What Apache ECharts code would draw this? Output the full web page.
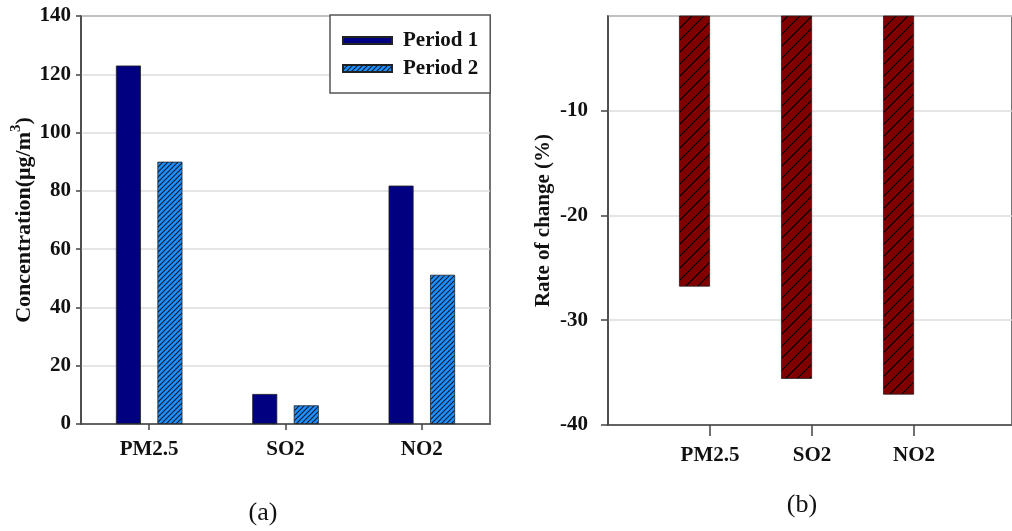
<!DOCTYPE html>
<html>
<head>
<meta charset="utf-8">
<script src="https://cdn.jsdelivr.net/npm/echarts@6/dist/echarts.min.js"></script>
<style>
html,body{margin:0;padding:0;background:#fff;}
#c{width:1012px;height:531px;}
</style>
</head>
<body>
<div id="c"></div>
<script>
// ---- data ----
const categories = ['PM2.5', 'SO2', 'NO2'];
const seriesNames = ['Period 1', 'Period 2'];
const period1 = [123, 10.3, 81.8];
const period2 = [90, 6.4, 51.2];
const rateOfChange = [-26.8, -35.6, -37.1];
const captions = ['(a)', '(b)'];

const FONT = '"Liberation Serif", "Times New Roman", serif';
const lab = { fontFamily: FONT, fontWeight: 'bold', fontSize: 21, color: '#111' };
const axisLineStyle = { color: '#444', width: 1.5 };

// diagonal "/" hatch tile
function hatch(bg, line, size, lw) {
  const c = document.createElement('canvas');
  c.width = size; c.height = size;
  const g = c.getContext('2d');
  g.fillStyle = bg; g.fillRect(0, 0, size, size);
  g.strokeStyle = line; g.lineWidth = lw;
  g.beginPath();
  g.moveTo(-2, size + 2); g.lineTo(size + 2, -2);
  g.moveTo(-2, 2); g.lineTo(2, -2);
  g.moveTo(size - 2, size + 2); g.lineTo(size + 2, size - 2);
  g.stroke();
  return { image: c, repeat: 'repeat' };
}

const chart = echarts.init(document.getElementById('c'), null, { renderer: 'canvas' });

// x positions for the right panel come from the category index on a value axis
const rightData = rateOfChange.map((v, i) => [i + 1, v]);

const option = {
  backgroundColor: '#fff',
  animation: false,
  legend: {
    data: seriesNames,
    left: 330, top: 15,
    orient: 'vertical',
    padding: [15, 12, 14, 12],
    itemGap: 7,
    itemWidth: 49, itemHeight: 7,
    icon: 'rect',
    borderColor: '#555', borderWidth: 1.5,
    backgroundColor: '#fff',
    textStyle: Object.assign({}, lab, { padding: [0, 0, 0, 6] })
  },
  grid: [
    { left: 81, top: 16, width: 409, height: 408, show: true, borderColor: '#444', borderWidth: 1.5 },
    { left: 608, top: 16, right: -3, height: 409, show: true, borderColor: '#444', borderWidth: 1.5 }
  ],
  xAxis: [
    {
      type: 'category', gridIndex: 0, data: categories,
      axisLine: { lineStyle: axisLineStyle },
      axisTick: { show: true, alignWithLabel: true, length: 6, lineStyle: axisLineStyle },
      axisLabel: Object.assign({}, lab, { margin: 15 })
    },
    {
      type: 'value', gridIndex: 1, min: 0, max: 3.96,
      axisLine: { show: true, lineStyle: axisLineStyle },
      axisTick: { show: true, length: 11, lineStyle: axisLineStyle, customValues: [1, 2, 3] },
      axisLabel: Object.assign({}, lab, {
        margin: 20, customValues: [1, 2, 3],
        formatter: v => categories[Math.round(v) - 1] || ''
      }),
      splitLine: { show: false }
    }
  ],
  yAxis: [
    {
      type: 'value', gridIndex: 0, min: 0, max: 140, interval: 20,
      name: '{a|Concentration(μg/m}{s|3}{a|)}',
      nameLocation: 'middle', nameGap: 45, nameRotate: 90,
      nameTextStyle: {
        rich: {
          a: { fontFamily: FONT, fontWeight: 'bold', fontSize: 22, color: '#111', lineHeight: 27, verticalAlign: 'bottom' },
          s: { fontFamily: FONT, fontWeight: 'bold', fontSize: 15, color: '#111', lineHeight: 27, verticalAlign: 'top' }
        }
      },
      axisLine: { show: true, lineStyle: axisLineStyle },
      axisTick: { show: true, length: 5, lineStyle: axisLineStyle },
      axisLabel: Object.assign({}, lab, { margin: 10 }),
      splitLine: { show: true, lineStyle: { color: '#dcdcdc', width: 1.5 } }
    },
    {
      type: 'value', gridIndex: 1, min: -40, max: -1, interval: 10,
      name: 'Rate of change (%)',
      nameLocation: 'middle', nameGap: 54, nameRotate: 90,
      nameTextStyle: { fontFamily: FONT, fontWeight: 'bold', fontSize: 21, color: '#111' },
      axisLine: { show: true, lineStyle: axisLineStyle },
      axisTick: { show: true, length: 7, lineStyle: axisLineStyle },
      axisLabel: Object.assign({}, lab, { margin: 20, showMaxLabel: false }),
      splitLine: { show: true, lineStyle: { color: '#dcdcdc', width: 1.5 } }
    }
  ],
  series: [
    {
      name: seriesNames[0], type: 'bar', xAxisIndex: 0, yAxisIndex: 0,
      data: period1, barWidth: 25, barGap: '66%',
      itemStyle: { color: '#000080', borderColor: '#222', borderWidth: 0.8 }
    },
    {
      name: seriesNames[1], type: 'bar', xAxisIndex: 0, yAxisIndex: 0,
      data: period2, barWidth: 25,
      itemStyle: { color: hatch('#1e90ff', '#0a1a30', 5, 1.1), borderColor: '#222', borderWidth: 0.8 }
    },
    {
      name: 'Rate of change', type: 'bar', xAxisIndex: 1, yAxisIndex: 1,
      data: rightData, barWidth: 31, barGap: '0%', clip: true,
      itemStyle: { color: hatch('#800000', '#000', 12, 1.2), borderColor: '#222', borderWidth: 0.8 }
    },
    {
      name: '_offset', type: 'bar', xAxisIndex: 1, yAxisIndex: 1,
      data: [], barWidth: 31, silent: true
    }
  ],
  graphic: [
    { type: 'text', x: 263, y: 513, style: { text: captions[0], font: '26px ' + FONT, fill: '#111', align: 'center', verticalAlign: 'middle' } },
    { type: 'text', x: 802, y: 505, style: { text: captions[1], font: '26px ' + FONT, fill: '#111', align: 'center', verticalAlign: 'middle' } }
  ]
};
chart.setOption(option);
</script>
</body>
</html>
